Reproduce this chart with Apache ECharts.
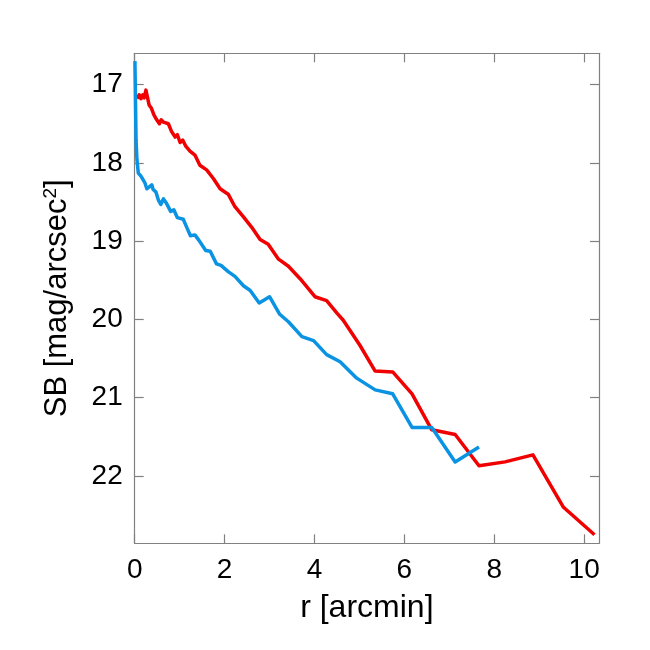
<!DOCTYPE html>
<html>
<head>
<meta charset="utf-8">
<script src="https://cdn.jsdelivr.net/npm/echarts@6/dist/echarts.min.js"></script>
<style>
  html, body { margin: 0; padding: 0; background: #fff; }
  #chart { width: 650px; height: 650px; }
</style>
</head>
<body>
<div id="chart"></div>
<script>
// red profile: r [arcmin], SB [mag/arcsec^2]
const redR = [0.06, 0.10, 0.14, 0.18, 0.21, 0.25, 0.29, 0.32, 0.37, 0.43, 0.49, 0.55, 0.59, 0.64, 0.75, 0.82, 0.90, 0.95, 1.01, 1.07, 1.14, 1.23, 1.34, 1.45, 1.60, 1.75, 1.90, 2.08, 2.23, 2.42, 2.60, 2.79, 2.97, 3.20, 3.42, 3.68, 4.01, 4.27, 4.50, 4.64, 5.01, 5.35, 5.74, 6.17, 6.61, 7.13, 7.66, 8.24, 8.86, 9.54, 10.23]
const redSB = [17.18, 17.13, 17.18, 17.13, 17.17, 17.07, 17.05, 17.26, 17.30, 17.39, 17.45, 17.50, 17.45, 17.48, 17.50, 17.60, 17.67, 17.64, 17.74, 17.71, 17.79, 17.85, 17.90, 18.03, 18.09, 18.20, 18.33, 18.40, 18.56, 18.69, 18.82, 18.98, 19.04, 19.23, 19.32, 19.48, 19.71, 19.76, 19.92, 20.01, 20.33, 20.66, 20.67, 20.95, 21.41, 21.47, 21.87, 21.82, 21.73, 22.40, 22.75]

// blue profile
const blueR = [0.005, 0.03, 0.05, 0.08, 0.14, 0.23, 0.27, 0.32, 0.38, 0.41, 0.47, 0.53, 0.58, 0.64, 0.71, 0.80, 0.87, 0.95, 1.08, 1.17, 1.24, 1.34, 1.43, 1.58, 1.68, 1.82, 1.92, 2.08, 2.23, 2.42, 2.57, 2.77, 3.00, 3.22, 3.42, 3.72, 3.98, 4.27, 4.57, 4.94, 5.35, 5.74, 6.17, 6.61, 7.13, 7.66]
const blueSB = [16.70, 17.71, 17.96, 18.13, 18.17, 18.26, 18.33, 18.31, 18.28, 18.34, 18.37, 18.48, 18.53, 18.46, 18.52, 18.62, 18.60, 18.70, 18.72, 18.84, 18.93, 18.92, 18.99, 19.12, 19.13, 19.29, 19.31, 19.39, 19.45, 19.57, 19.63, 19.79, 19.71, 19.93, 20.03, 20.22, 20.27, 20.45, 20.54, 20.75, 20.90, 20.95, 21.38, 21.38, 21.82, 21.63]

const xTicks = [0, 2, 4, 6, 8, 10]
const yTicks = [17, 18, 19, 20, 21, 22]

const xMin = 0, xMax = 10.33
const yMin = 16.6, yMax = 22.86

const font = 'Liberation Sans, Arial, Helvetica, sans-serif'
const frameColor = '#808080'

function pairs(xs, ys) {
  return xs.map((x, i) => [x, ys[i]])
}

function frameAxis(ticks, extra) {
  return Object.assign({
    type: 'value',
    axisLine: { show: true, onZero: false, lineStyle: { color: frameColor, width: 1.2 } },
    axisTick: { show: true, inside: true, length: 9, customValues: ticks, lineStyle: { color: frameColor, width: 1.2 } },
    axisLabel: { show: false },
    splitLine: { show: false }
  }, extra)
}

const tickLabel = { color: '#000', fontSize: 28, fontFamily: font }

const chart = echarts.init(document.getElementById('chart'), null, { renderer: 'canvas' })

chart.setOption({
  animation: false,
  backgroundColor: '#fff',
  grid: { left: 134.7, right: 51, top: 53.3, bottom: 106.7, containLabel: false },
  xAxis: [
    frameAxis(xTicks, {
      position: 'bottom',
      min: xMin, max: xMax,
      axisLabel: Object.assign({ customValues: xTicks, margin: 13 }, tickLabel),
      name: 'r [arcmin]',
      nameLocation: 'middle',
      nameGap: 49,
      nameTextStyle: { color: '#000', fontSize: 32, fontFamily: font }
    }),
    frameAxis(xTicks, { position: 'top', min: xMin, max: xMax })
  ],
  yAxis: [
    frameAxis(yTicks, {
      position: 'left',
      inverse: true,
      min: yMin, max: yMax,
      axisLabel: Object.assign({ customValues: yTicks, margin: 12 }, tickLabel),
      name: '{n|SB [mag/arcsec}{s|2}{n|]}',
      nameLocation: 'middle',
      nameGap: 62,
      nameRotate: 90,
      nameTextStyle: {
        color: '#000', fontFamily: font,
        rich: {
          n: { fontSize: 31, fontFamily: font, color: '#000', verticalAlign: 'bottom' },
          s: { fontSize: 19, fontFamily: font, color: '#000', verticalAlign: 'top' }
        }
      }
    }),
    frameAxis(yTicks, { position: 'right', inverse: true, min: yMin, max: yMax })
  ],
  series: [
    {
      type: 'line',
      data: pairs(redR, redSB),
      showSymbol: false,
      symbol: 'none',
      lineStyle: { color: '#f00000', width: 3.5, join: 'round' },
      z: 2
    },
    {
      type: 'line',
      data: pairs(blueR, blueSB),
      showSymbol: false,
      symbol: 'none',
      lineStyle: { color: '#0a93e3', width: 3.5, join: 'round' },
      z: 3
    }
  ]
})
</script>
</body>
</html>
